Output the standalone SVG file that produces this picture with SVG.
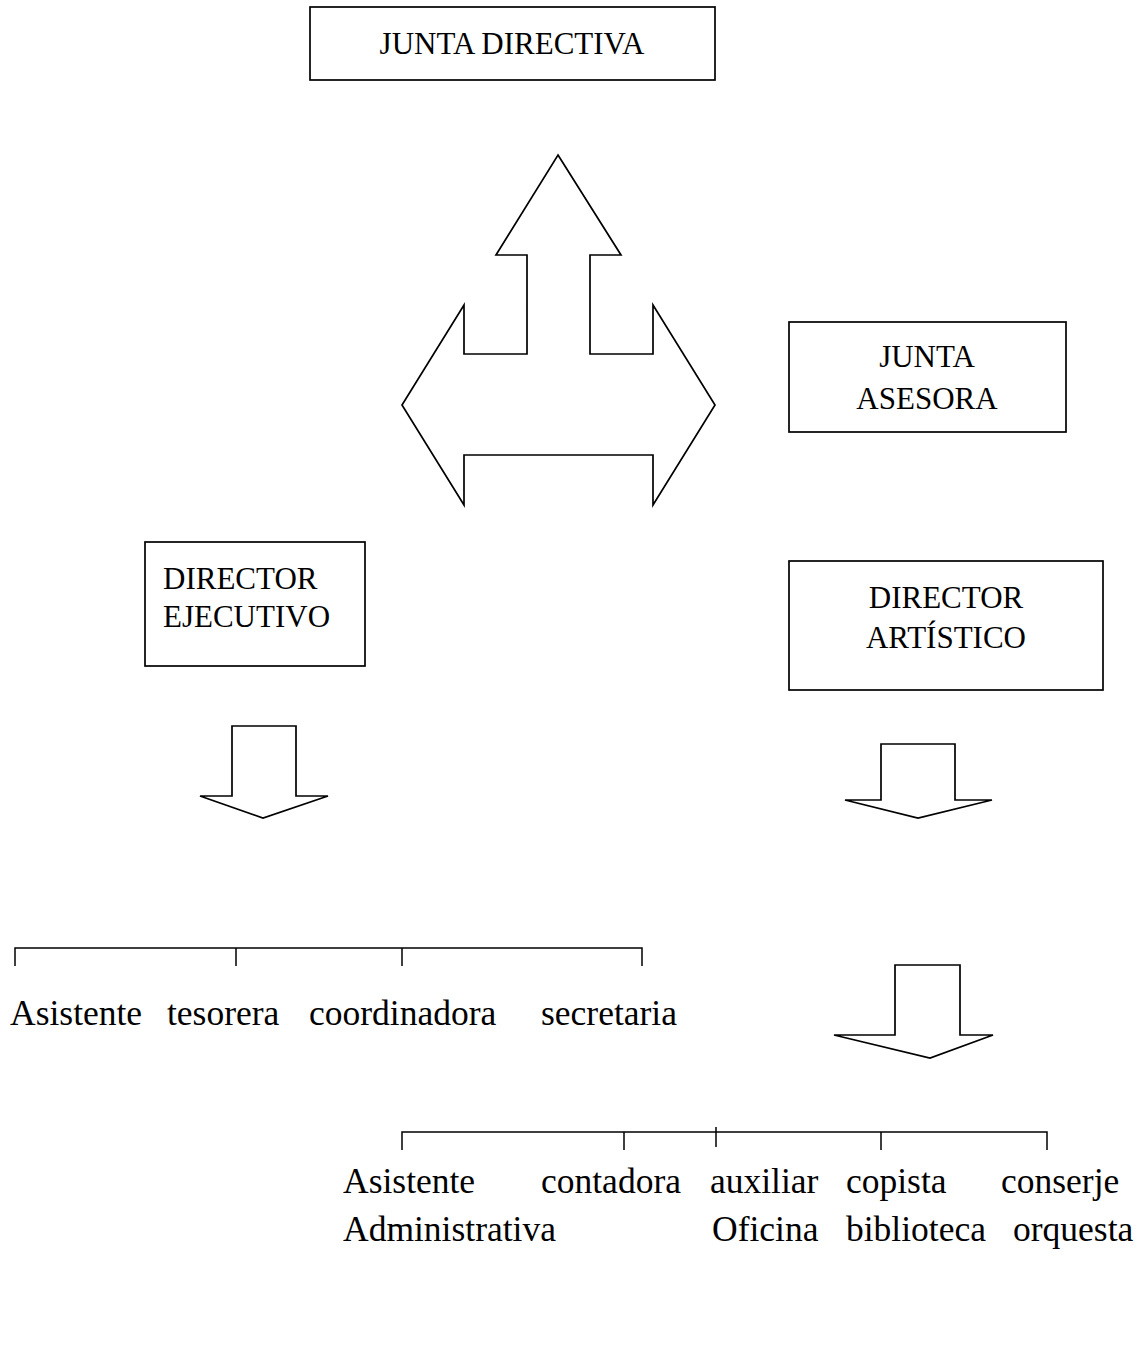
<svg xmlns="http://www.w3.org/2000/svg" width="1143" height="1367" viewBox="0 0 1143 1367">
  <style>
    .box { fill: #ffffff; stroke: #000000; stroke-width: 1.7; }
    .shape { fill: #ffffff; stroke: #000000; stroke-width: 1.7; stroke-linejoin: miter; }
    .line { fill: none; stroke: #000000; stroke-width: 1.5; }
    .title { font-family: "Liberation Serif", "Times New Roman", serif; font-size: 31px; fill: #000000; }
    .staff { font-family: "Liberation Serif", "Times New Roman", serif; font-size: 35.5px; fill: #000000; }
  </style>
  <rect width="1143" height="1367" fill="#ffffff"/>

  <!-- Board of directors -->
  <g id="junta-directiva">
    <rect class="box" x="310" y="7" width="405" height="73"/>
    <text class="title" x="512" y="54" text-anchor="middle">JUNTA DIRECTIVA</text>
  </g>

  <!-- Advisory board -->
  <g id="junta-asesora">
    <rect class="box" x="789" y="322" width="277" height="110"/>
    <text class="title" x="927" y="367" text-anchor="middle">JUNTA</text>
    <text class="title" x="927" y="409" text-anchor="middle">ASESORA</text>
  </g>

  <!-- Executive director -->
  <g id="director-ejecutivo">
    <rect class="box" x="145" y="542" width="220" height="124"/>
    <text class="title" x="163" y="589">DIRECTOR</text>
    <text class="title" x="163" y="627">EJECUTIVO</text>
  </g>

  <!-- Artistic director -->
  <g id="director-artistico">
    <rect class="box" x="789" y="561" width="314" height="129"/>
    <text class="title" x="946" y="608" text-anchor="middle">DIRECTOR</text>
    <text class="title" x="946" y="648" text-anchor="middle">ARTÍSTICO</text>
  </g>

  <!-- Block arrows and bracket lines -->
  <g id="connectors">
    <!-- three-way arrow: up, left, right -->
    <polygon class="shape" points="558,155 621,255 590,255 590,354 653,354 653,305 715,405 653,505 653,455 464,455 464,505 402,405 464,305 464,354 527,354 527,255 496,255"/>

    <!-- down arrow under executive director -->
    <polygon class="shape" points="232,726 296,726 296,796 328,796 263,818 200,796 232,796"/>

    <!-- down arrows under artistic director -->
    <polygon class="shape" points="881,744 955,744 955,800 992,800 918,818 845,800 881,800"/>
    <polygon class="shape" points="895,965 960,965 960,1035 993,1035 930,1058 834,1035 895,1035"/>

    <!-- executive staff bracket -->
    <path class="line" d="M15,966 V948 H642 V966 M236,948 V966 M402,948 V966"/>

    <!-- artistic staff bracket -->
    <path class="line" d="M402,1150 V1132 H1047 V1150 M624,1132 V1150 M716,1127 V1147 M881,1132 V1150"/>
  </g>

  <!-- Executive staff -->
  <g id="staff-ejecutivo">
    <text class="staff" x="10" y="1025">Asistente</text>
    <text class="staff" x="167" y="1025">tesorera</text>
    <text class="staff" x="309" y="1025">coordinadora</text>
    <text class="staff" x="541" y="1025">secretaria</text>
  </g>

  <!-- Artistic staff -->
  <g id="staff-artistico">
    <text class="staff" x="343" y="1193">Asistente</text>
    <text class="staff" x="343" y="1241">Administrativa</text>
    <text class="staff" x="541" y="1193">contadora</text>
    <text class="staff" x="710" y="1193">auxiliar</text>
    <text class="staff" x="712" y="1241">Oficina</text>
    <text class="staff" x="846" y="1193">copista</text>
    <text class="staff" x="846" y="1241">biblioteca</text>
    <text class="staff" x="1001" y="1193">conserje</text>
    <text class="staff" x="1013" y="1241">orquesta</text>
  </g>
</svg>
